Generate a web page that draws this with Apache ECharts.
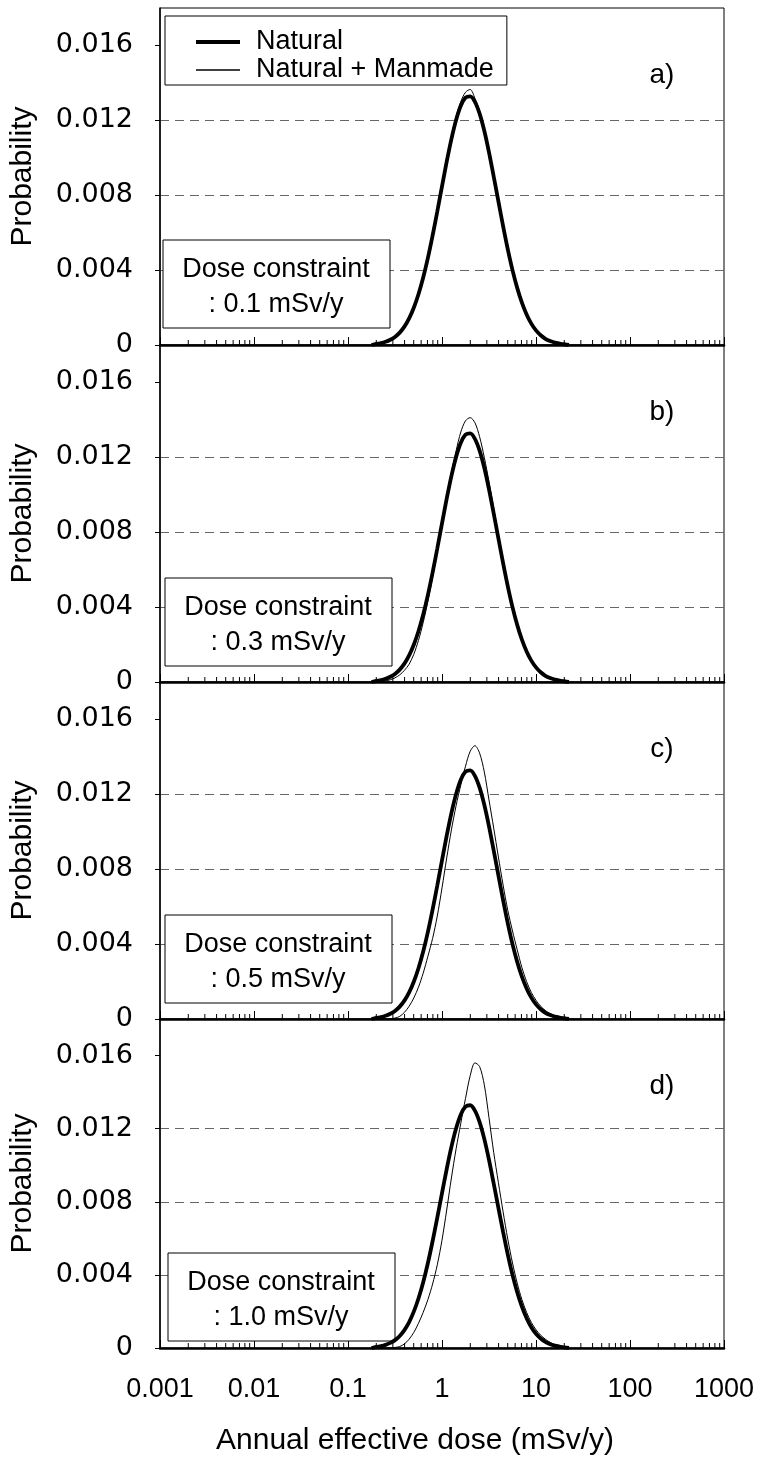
<!DOCTYPE html>
<html><head><meta charset="utf-8">
<script src="https://cdn.jsdelivr.net/npm/echarts@6/dist/echarts.min.js"></script>
<style>html,body{margin:0;padding:0;background:#fff}#c{width:758px;height:1461px}</style>
</head><body><div id="c"></div>
<script>
// Dose bins (mSv/y), log-spaced
const doses = [0.178,0.200,0.224,0.251,0.282,0.316,0.355,0.398,0.447,0.501,0.562,0.631,0.708,0.794,0.891,1.000,1.122,1.259,1.413,1.585,1.778,1.995,2.239,2.512,2.818,3.162,3.548,3.981,4.467,5.012,5.623,6.310,7.079,7.943,8.913,10.00,11.22,12.59,14.13,15.85,17.78,19.95,22.39];
const natural = [0,0.00006,0.00010,0.00017,0.00028,0.00043,0.00066,0.00098,0.00142,0.00199,0.00271,0.00360,0.00465,0.00584,0.00713,0.00847,0.00979,0.01100,0.01202,0.01278,0.01321,0.01328,0.01299,0.01236,0.01144,0.01029,0.00900,0.00767,0.00635,0.00511,0.00400,0.00305,0.00226,0.00163,0.00114,0.00078,0.00052,0.00033,0.00021,0.00013,0.00008,0.00004,0];
const manmadeA = [0,0.00004,0.00008,0.00014,0.00024,0.00040,0.00063,0.00095,0.00140,0.00198,0.00272,0.00363,0.00470,0.00593,0.00726,0.00862,0.00995,0.01118,0.01222,0.01300,0.01350,0.01365,0.01318,0.01250,0.01152,0.01033,0.00902,0.00767,0.00635,0.00511,0.00400,0.00305,0.00226,0.00163,0.00114,0.00078,0.00052,0.00033,0.00021,0.00013,0.00008,0.00004,0];
const manmadeB = [0,0.00001,0.00003,0.00006,0.00012,0.00022,0.00038,0.00062,0.00095,0.00148,0.00222,0.00318,0.00432,0.00560,0.00700,0.00845,0.00995,0.01120,0.01235,0.01335,0.01395,0.01412,0.01385,0.01310,0.01200,0.01070,0.00930,0.00785,0.00645,0.00518,0.00405,0.00308,0.00228,0.00165,0.00115,0.00079,0.00052,0.00034,0.00021,0.00013,0.00008,0.00004,0];
const manmadeC = [0,0,0,0.00001,0.00002,0.00005,0.00014,0.00035,0.00068,0.00112,0.00170,0.00245,0.00335,0.00430,0.00550,0.00700,0.00860,0.01010,0.01140,0.01250,0.01350,0.01430,0.01460,0.01420,0.01320,0.01170,0.01020,0.00865,0.00715,0.00580,0.00470,0.00370,0.00275,0.00200,0.00142,0.00100,0.00068,0.00045,0.00029,0.00018,0.00010,0.00005,0];
const manmadeD = [0,0,0,0,0.00001,0.00003,0.00008,0.00022,0.00048,0.00085,0.00135,0.00195,0.00265,0.00350,0.00455,0.00590,0.00755,0.00930,0.01090,0.01230,0.01365,0.01490,0.01560,0.01540,0.01440,0.01260,0.01070,0.00905,0.00745,0.00595,0.00465,0.00355,0.00265,0.00195,0.00140,0.00100,0.00070,0.00048,0.00031,0.00019,0.00011,0.00006,0];
const manmade = [manmadeA, manmadeB, manmadeC, manmadeD];
const panelLabels = ['a)','b)','c)','d)'];
const constraints = [': 0.1 mSv/y', ': 0.3 mSv/y', ': 0.5 mSv/y', ': 1.0 mSv/y'];
const xTickLabels = ['0.001','0.01','0.1','1','10','100','1000'];
const yTickValues = [0, 0.004, 0.008, 0.012, 0.016];
const decadeStarts = [0.001, 0.01, 0.1, 1, 10, 100];
const minorMultipliers = [2, 3, 4, 5, 6, 7, 8, 9];

// layout
const FONT = '"Liberation Sans", Arial, sans-serif';
const GL = 157, GW = 567;
const panels = [{top: 8, height: 337}, {top: 345, height: 337}, {top: 682, height: 337}, {top: 1019, height: 329}];
const boxes = [{x: 163, y: 240}, {x: 165, y: 578}, {x: 165, y: 915}, {x: 168, y: 1253}];

const minorTickValues = [];
decadeStarts.forEach(d => minorMultipliers.forEach(m => minorTickValues.push(+(d * m).toPrecision(3))));
const pairs = arr => doses.map((d, i) => [d, arr[i]]);

const grid = [], xAxis = [], yAxis = [], series = [], graphic = [];
panels.forEach((p, i) => {
  grid.push({left: GL, width: GW, top: p.top, height: p.height, show: true, borderColor: '#000', borderWidth: 1, backgroundColor: 'transparent'});
  xAxis.push({
    gridIndex: i, type: 'log', logBase: 10, min: 0.001, max: 1000, splitNumber: 6,
    axisLine: {show: true, onZero: false, lineStyle: {color: '#000', width: 2.5}},
    axisTick: {show: true, inside: true, length: 8, lineStyle: {color: '#000', width: 1}},
    axisLabel: {show: i === 3, color: '#000', fontFamily: FONT, fontSize: 27, margin: 28,
      formatter: v => xTickLabels[Math.round(Math.log10(v)) + 3]},
    splitLine: {show: false}
  });
  yAxis.push({
    gridIndex: i, type: 'value', min: 0, max: 0.018, interval: 0.004,
    axisLine: {show: true, lineStyle: {color: '#000', width: 1.5}},
    axisTick: {show: true, inside: false, length: 5, lineStyle: {color: '#000'}, customValues: yTickValues},
    axisLabel: {color: '#000', fontFamily: '"DejaVu Sans", sans-serif', fontSize: 27, margin: 27, customValues: yTickValues,
      formatter: v => v > 0.017 ? '' : (v === 0 ? '0' : v.toFixed(3))},
    splitLine: {show: true, showMinLine: false, showMaxLine: false, lineStyle: {color: '#666', type: [9, 6], width: 1}},
    name: 'Probability', nameLocation: 'middle', nameGap: 122,
    nameTextStyle: {color: '#000', fontFamily: FONT, fontSize: 30}
  });
  series.push({
    type: 'custom', xAxisIndex: i, yAxisIndex: i, silent: true, z: 3,
    data: minorTickValues.map(v => [v, 0]),
    renderItem: (params, api) => {
      const pt = api.coord([api.value(0), 0]);
      return {type: 'line', shape: {x1: pt[0], y1: pt[1], x2: pt[0], y2: pt[1] - 5}, style: {stroke: '#000', lineWidth: 1}};
    }
  });
  series.push({
    type: 'line', name: 'Natural + Manmade', xAxisIndex: i, yAxisIndex: i, data: pairs(manmade[i]),
    symbol: 'none', smooth: 0.3, lineStyle: {color: '#000', width: 1}, itemStyle: {color: '#000'}, z: 5
  });
  series.push({
    type: 'line', name: 'Natural', xAxisIndex: i, yAxisIndex: i, data: pairs(natural),
    symbol: 'none', smooth: 0.3, lineStyle: {color: '#000', width: 3.8}, itemStyle: {color: '#000'}, z: 6
  });
  const b = boxes[i];
  graphic.push({type: 'rect', z: 4, shape: {x: b.x, y: b.y, width: 227, height: 88},
    style: {fill: '#fff', stroke: '#000', lineWidth: 1}});
  graphic.push({type: 'text', z: 4, style: {text: 'Dose constraint', x: b.x + 113, y: b.y + 30, textAlign: 'center', textVerticalAlign: 'middle', font: '27px ' + FONT, fill: '#000'}});
  graphic.push({type: 'text', z: 4, style: {text: constraints[i], x: b.x + 113, y: b.y + 65, textAlign: 'center', textVerticalAlign: 'middle', font: '27px ' + FONT, fill: '#000'}});
  graphic.push({type: 'text', z: 4, style: {text: panelLabels[i], x: 662, y: p.top + 67, textAlign: 'center', textVerticalAlign: 'middle', font: '28px ' + FONT, fill: '#000'}});
});
graphic.push({type: 'text', z: 4, style: {text: 'Annual effective dose (mSv/y)', x: 415, y: 1441, textAlign: 'center', textVerticalAlign: 'middle', font: '30px ' + FONT, fill: '#000'}});

const chart = echarts.init(document.getElementById('c'), null, {renderer: 'canvas'});
chart.setOption({
  animation: false,
  backgroundColor: '#fff',
  grid, xAxis, yAxis, series, graphic,
  legend: {
    left: 165, top: 16, orient: 'vertical', selectedMode: false,
    data: [
      {name: 'Natural', icon: 'inherit', itemStyle: {opacity: 0, borderWidth: 0}, lineStyle: {color: '#000', width: 4}},
      {name: 'Natural + Manmade', icon: 'inherit', itemStyle: {opacity: 0, borderWidth: 0}, lineStyle: {color: '#000', width: 1.6}}
    ],
    itemWidth: 44, itemHeight: 14, itemGap: 0, padding: [12, 13, 1, 29],
    borderColor: '#000', borderWidth: 1, borderRadius: 0, backgroundColor: '#fff', z: 7,
    textStyle: {color: '#000', fontFamily: FONT, fontSize: 27, lineHeight: 28, padding: [0, 0, 0, 11]}
  }
});
</script></body></html>
